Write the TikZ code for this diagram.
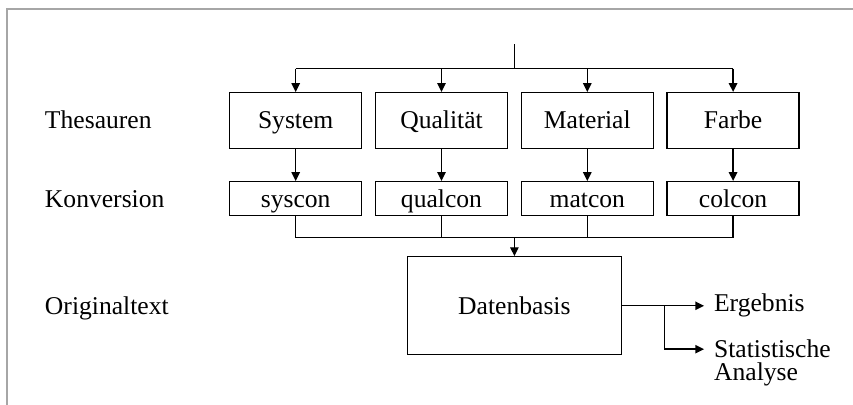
\documentclass[tikz,border=0pt]{standalone}
\usepackage{fontspec}
\setmainfont{Liberation Serif}
\usetikzlibrary{arrows.meta, positioning, calc}

\begin{document}
\begin{tikzpicture}[node distance=16pt and 6.2pt, >={Triangle[length=4.4pt,width=4.2pt]}, line width=0.7pt,
    font=\fontsize{12.8}{11.6}\selectfont,
    thesbox/.style={rectangle, draw, minimum width=66pt, minimum height=27.8pt, inner sep=1pt, text height=8.4pt, text depth=0pt},
    convbox/.style={rectangle, draw, minimum width=66pt, minimum height=17pt, inner sep=1pt, text height=8.4pt, text depth=0pt},
    databox/.style={rectangle, draw, minimum width=107pt, minimum height=49pt, text height=8.4pt, text depth=0pt},
    rowlabel/.style={anchor=west, inner sep=0pt, text height=8.4pt, text depth=0pt},
    outlabel/.style={inner xsep=5pt, inner ysep=0pt, outer sep=0pt, align=left}]

\useasboundingbox (0,0) rectangle (426.5pt,-202.5pt);

% Frame
\draw[gray!70, line width=1pt] (3.5pt,-202.5pt) -- (3.5pt,-4.65pt) -- (426.5pt,-4.65pt);

% Thesauren
\node[thesbox] (system) at (147.85pt,-60.25pt) {System};
\node[thesbox, right=of system] (qualitaet) {Qualität};
\node[thesbox, right=of qualitaet] (material) {Material};
\node[thesbox, right=of material] (farbe) {Farbe};

% Konversion
\node[convbox, below=of system] (syscon) {syscon};
\node[convbox, below=of qualitaet] (qualcon) {qualcon};
\node[convbox, below=of material] (matcon) {matcon};
\node[convbox, below=of farbe] (colcon) {colcon};

% Bus lines
\coordinate (topbus) at ($(system.north)!0.5!(farbe.north) + (0,11.7pt)$);
\coordinate (stub) at ($(topbus) + (0,12.15pt)$);
\coordinate (botbus) at ($(syscon.south)!0.5!(colcon.south) + (0,-10.7pt)$);

% Datenbasis
\node[databox, below=9.15pt of botbus] (daten) {Datenbasis};

% Results
\node[outlabel, right=41pt of daten] (ergebnis) {Ergebnis};
\coordinate (jct) at ($(daten.east) + (21.15pt,0)$);
\coordinate (stattip) at ($(ergebnis.west) + (0,-21.7pt)$);
\node[outlabel, anchor=west] (statistik) at ($(stattip) + (0,-7pt)$) {Statistische\\Analyse};

% Row labels
\coordinate (leftcol) at (22.15pt,0);
\node[rowlabel] (thesauren) at (leftcol |- system) {Thesauren};
\node[rowlabel] (konversion) at (leftcol |- syscon) {Konversion};
\node[rowlabel] (originaltext) at (leftcol |- daten) {Originaltext};

% Top distribution
\draw (stub) -- (topbus);
\draw (system.north |- topbus) -- (farbe.north |- topbus);
\draw[->] (system.north |- topbus) -- (system.north);
\draw[->] (qualitaet.north |- topbus) -- (qualitaet.north);
\draw[->] (material.north |- topbus) -- (material.north);
\draw[->] (farbe.north |- topbus) -- (farbe.north);

% Thesauren to Konversion
\draw[->] (system) -- (syscon);
\draw[->] (qualitaet) -- (qualcon);
\draw[->] (material) -- (matcon);
\draw[->] (farbe) -- (colcon);

% Konversion to Datenbasis
\draw (syscon.south) -- (syscon.south |- botbus);
\draw (qualcon.south) -- (qualcon.south |- botbus);
\draw (matcon.south) -- (matcon.south |- botbus);
\draw (colcon.south) -- (colcon.south |- botbus);
\draw (syscon.south |- botbus) -- (colcon.south |- botbus);
\draw[->] (botbus) -- (daten);

% Output
\draw[->] (daten.east) -- (ergebnis.west);
\draw[->] (jct) |- (stattip);

\end{tikzpicture}
\end{document}
